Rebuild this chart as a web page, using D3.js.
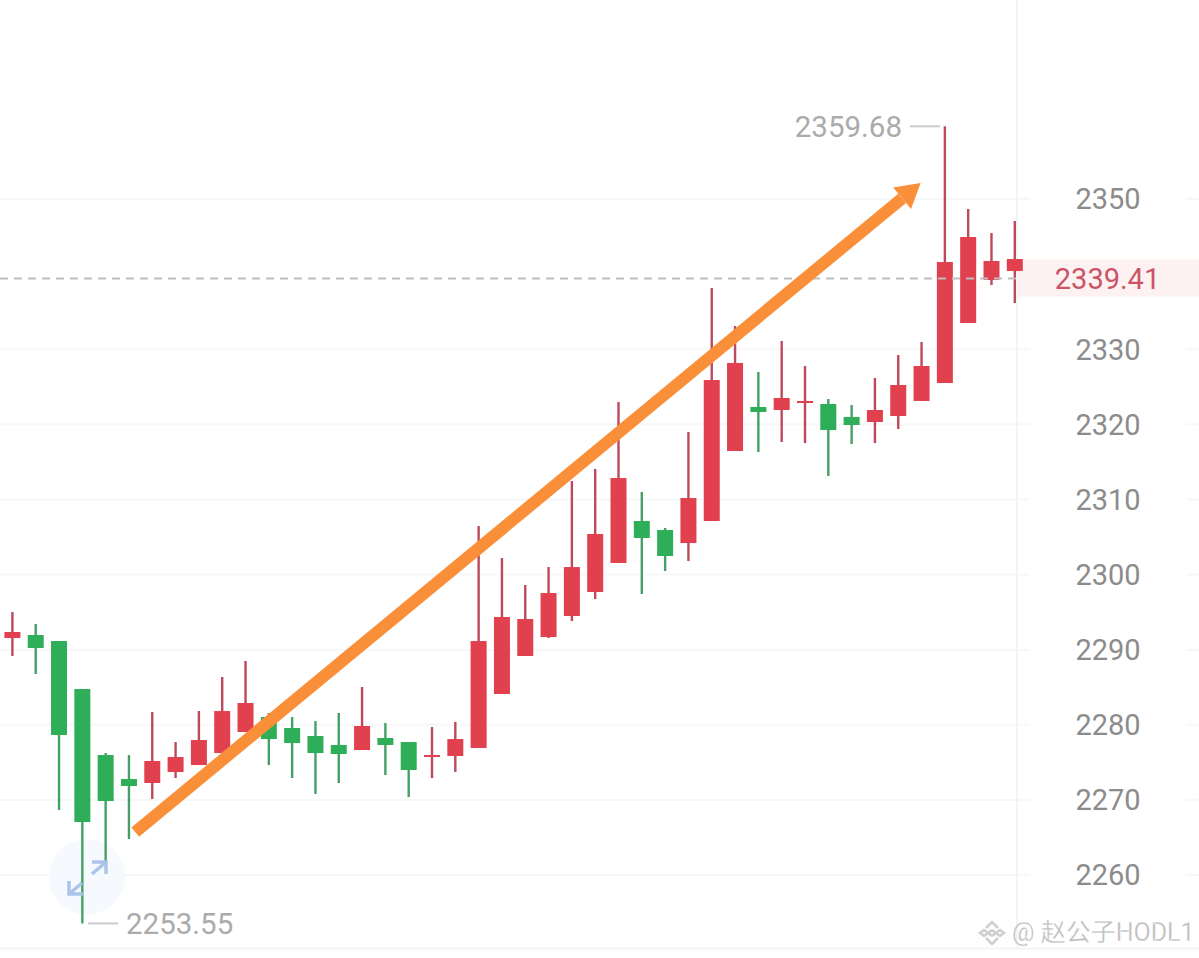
<!DOCTYPE html>
<html>
<head>
<meta charset="utf-8">
<title>Candles</title>
<script src="https://d3js.org/d3.v7.min.js"></script>
<style>
	html, body { margin: 0; padding: 0; background: #fff; overflow: hidden; }
	svg { display: block; font-family: Roboto, "Noto Sans CJK SC", sans-serif; }
</style>
</head>
<body>
<div id="chart"></div>
<script>
// candle values, oldest first
var opens = [2291.55, 2291.95, 2291.15, 2284.76, 2275.97, 2272.78, 2272.25, 2273.71, 2274.64, 2276.24, 2279.04,
	2281.03, 2279.57, 2278.50, 2277.31, 2276.64, 2278.24, 2277.70, 2275.71, 2275.84, 2276.91, 2284.10,
	2289.16, 2291.68, 2294.48, 2297.68, 2301.54, 2307.13, 2305.93, 2304.20, 2307.13, 2316.45, 2322.31,
	2321.91, 2322.84, 2322.71, 2320.98, 2320.31, 2321.11, 2323.11, 2325.50, 2333.49, 2339.22, 2340.41];
var closes = [2292.35, 2290.22, 2278.64, 2267.05, 2269.85, 2271.85, 2275.18, 2275.71, 2277.97, 2281.83, 2282.90,
	2278.10, 2277.57, 2276.24, 2276.11, 2279.84, 2277.31, 2273.98, 2275.97, 2278.10, 2291.15, 2294.35,
	2294.08, 2297.54, 2301.00, 2305.40, 2312.85, 2304.87, 2302.47, 2310.19, 2325.90, 2328.17, 2321.64,
	2323.51, 2323.11, 2319.24, 2319.91, 2321.91, 2325.24, 2327.77, 2341.61, 2344.94, 2341.75, 2342.01];
var highs = [2295.01, 2293.42, 2291.15, 2284.76, 2276.24, 2275.97, 2281.70, 2277.70, 2281.83, 2286.36, 2288.49,
	2281.57, 2281.03, 2280.50, 2281.57, 2285.03, 2280.23, 2277.70, 2279.70, 2280.37, 2306.46, 2302.20,
	2298.61, 2301.00, 2312.45, 2314.05, 2322.97, 2310.99, 2306.20, 2318.98, 2338.15, 2333.09, 2326.97,
	2331.09, 2327.77, 2323.37, 2322.57, 2326.17, 2329.23, 2330.96, 2359.68, 2348.67, 2345.47, 2347.07];
var lows = [2289.16, 2286.76, 2268.65, 2253.55, 2261.60, 2264.79, 2270.12, 2272.91, 2274.64, 2276.24, 2279.04,
	2274.64, 2272.91, 2270.78, 2272.25, 2276.64, 2273.31, 2270.38, 2272.91, 2273.71, 2276.91, 2284.10,
	2289.16, 2291.55, 2293.81, 2296.74, 2301.54, 2297.41, 2300.47, 2301.80, 2307.13, 2316.45, 2316.32,
	2317.65, 2317.51, 2313.12, 2317.38, 2317.51, 2319.38, 2323.11, 2325.50, 2333.49, 2338.55, 2336.15];

var priceTicks = [2260, 2270, 2280, 2290, 2300, 2310, 2320, 2330, 2350];
var lastPrice = 2339.41;
var highLabel = "2359.68";
var lowLabel = "2253.55";
var watermark = "@ 赵公子HODL1";

// drawn trend arrow, given as candle index and price
var arrowFrom = [5.27, 2265.72];
var arrowTo = [38.96, 2352.13];

var width = 1199, height = 958;
var red = "#e1404f", green = "#2eae58";

var svg = d3.select("#chart").append("svg")
	.attr("width", width)
	.attr("height", height);

var x = d3.scaleLinear().domain([0, 43]).range([12.4, 1014.8]);
var y = d3.scaleLinear().domain([2260, 2350]).range([875, 199]);

var idx = d3.range(opens.length);

// grid, broken around the price labels
priceTicks.forEach(function (t) {
	svg.append("line").attr("x1", 0).attr("x2", 1030).attr("y1", y(t)).attr("y2", y(t))
		.attr("stroke", "#f7f7f7").attr("stroke-width", 2);
	svg.append("line").attr("x1", 1186).attr("x2", width).attr("y1", y(t)).attr("y2", y(t))
		.attr("stroke", "#f7f7f7").attr("stroke-width", 2);
});
svg.append("line").attr("x1", 1017).attr("x2", 1017).attr("y1", 0).attr("y2", 948)
	.attr("stroke", "#f4f4f4").attr("stroke-width", 2);
svg.append("line").attr("x1", 0).attr("x2", width).attr("y1", 948.5).attr("y2", 948.5)
	.attr("stroke", "#f3f3f3").attr("stroke-width", 2);

// band behind the last price
svg.append("rect")
	.attr("x", 1018).attr("y", y(lastPrice) - 19)
	.attr("width", width - 1018).attr("height", 37)
	.attr("fill", "#fdf1f2");

// expand button
var btn = svg.append("g");
btn.append("circle").attr("cx", 87).attr("cy", 877).attr("r", 38).attr("fill", "#f6f9fe");

// wicks
svg.selectAll("line.wick").data(idx).enter().append("line")
	.attr("class", "wick")
	.attr("x1", function (i) { return x(i); })
	.attr("x2", function (i) { return x(i); })
	.attr("y1", function (i) { return y(highs[i]); })
	.attr("y2", function (i) { return y(lows[i]); })
	.attr("stroke", function (i) { return closes[i] >= opens[i] ? "#bd4a5c" : "#45a066"; })
	.attr("stroke-width", 2.4);

// bodies
svg.selectAll("rect.body").data(idx).enter().append("rect")
	.attr("class", "body")
	.attr("x", function (i) { return x(i) - 8; })
	.attr("width", 16)
	.attr("y", function (i) { return y(Math.max(opens[i], closes[i])); })
	.attr("height", function (i) { return Math.max(1.5, Math.abs(y(opens[i]) - y(closes[i]))); })
	.attr("fill", function (i) { return closes[i] >= opens[i] ? red : green; });

// button arrows sit over the candles
btn = svg.append("g").attr("fill", "none").attr("stroke", "#a9c2ec").attr("stroke-width", 3.5).attr("opacity", 0.95);
btn.append("path").attr("d", "M92,862H106V874M92,874L106,862");
btn.append("path").attr("d", "M69,881V894H83M69,894L82,883");

// last price dashed line
svg.append("line")
	.attr("x1", 0).attr("x2", 1017).attr("y1", y(lastPrice)).attr("y2", y(lastPrice))
	.attr("stroke", "#bdbdbd").attr("stroke-width", 2).attr("stroke-dasharray", "8,6");

// trend arrow
var ax0 = x(arrowFrom[0]), ay0 = y(arrowFrom[1]), ax1 = x(arrowTo[0]), ay1 = y(arrowTo[1]);
var ang = Math.atan2(ay1 - ay0, ax1 - ax0);
var headLen = 24, headHalf = 14;
var bx = ax1 - headLen * Math.cos(ang), by = ay1 - headLen * Math.sin(ang);
svg.append("line")
	.attr("x1", ax0).attr("y1", ay0).attr("x2", bx).attr("y2", by)
	.attr("stroke", "#fa8f3a").attr("stroke-width", 12);
svg.append("path")
	.attr("d", "M" + ax1 + "," + ay1 +
		"L" + (bx + headHalf * Math.sin(ang)) + "," + (by - headHalf * Math.cos(ang)) +
		"L" + (bx - headHalf * Math.sin(ang)) + "," + (by + headHalf * Math.cos(ang)) + "Z")
	.attr("fill", "#fa8f3a");

// price labels
svg.selectAll("text.tick").data(priceTicks).enter().append("text")
	.attr("class", "tick")
	.attr("x", 1108)
	.attr("y", function (t) { return y(t); })
	.attr("dy", "0.36em")
	.attr("text-anchor", "middle")
	.attr("font-size", 29)
	.attr("fill", "#8c8c8c")
	.text(function (t) { return t; });

svg.append("text")
	.attr("x", 1107.5).attr("y", y(lastPrice)).attr("dy", "0.36em")
	.attr("text-anchor", "middle").attr("font-size", 29).attr("fill", "#cb5467")
	.text(lastPrice.toFixed(2));

// extreme markers
svg.append("line").attr("x1", 910).attr("x2", 940).attr("y1", y(2359.68)).attr("y2", y(2359.68))
	.attr("stroke", "#cccccc").attr("stroke-width", 2);
svg.append("text")
	.attr("x", 902).attr("y", y(2359.68)).attr("dy", "0.36em")
	.attr("text-anchor", "end").attr("font-size", 29.5).attr("fill", "#ababab")
	.text(highLabel);
svg.append("line").attr("x1", 88).attr("x2", 118).attr("y1", y(2253.55)).attr("y2", y(2253.55))
	.attr("stroke", "#cccccc").attr("stroke-width", 2);
svg.append("text")
	.attr("x", 126).attr("y", y(2253.55)).attr("dy", "0.36em")
	.attr("font-size", 29.5).attr("fill", "#ababab")
	.text(lowLabel);

// watermark
var wm = svg.append("g").attr("transform", "translate(992,933)")
	.attr("fill", "none").attr("stroke", "#cfcfcf").attr("stroke-width", 2.5);
wm.append("path").attr("d", "M-6,-5L0,-11L6,-5M-6,5L0,11L6,5M-12,0L-8,-3L-4,0L-8,3ZM4,0L8,-3L12,0L8,3Z");
wm.append("circle").attr("r", 2.5);
svg.append("text")
	.attr("x", 1012).attr("y", 941)
	.attr("font-size", 25).attr("fill", "#bdbdbd")
	.attr("stroke", "#fff").attr("stroke-width", 0.3)
	.text(watermark);
</script>
</body>
</html>
